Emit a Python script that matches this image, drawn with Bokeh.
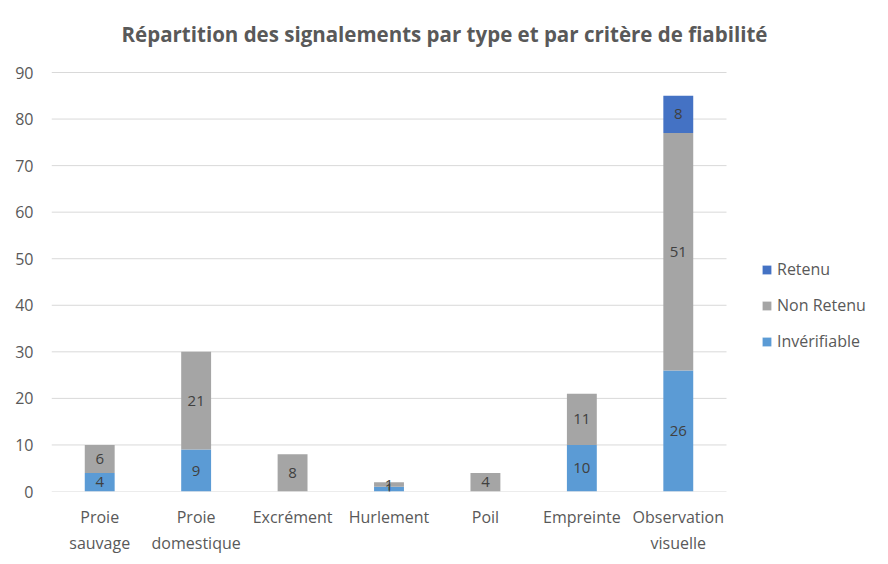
from bokeh.plotting import figure
from bokeh.models import ColumnDataSource, Legend, LegendItem, FixedTicker, Range1d
from bokeh.embed import file_html
from bokeh.resources import INLINE
from bokeh.core.properties import value

# ---- data ----
categories = ["Proie\nsauvage", "Proie\ndomestique", "Excrément", "Hurlement",
              "Poil", "Empreinte", "Observation\nvisuelle"]
inverifiable = [4, 9, 0, 1, 0, 10, 26]
non_retenu = [6, 21, 8, 1, 4, 11, 51]
retenu = [0, 0, 0, 0, 0, 0, 8]
series_names = ["Invérifiable", "Non Retenu", "Retenu"]
series_colors = ["#5B9BD5", "#A5A5A5", "#4472C4"]
y_ticks = [0, 10, 20, 30, 40, 50, 60, 70, 80, 90]
title_text = "Répartition des signalements par type et par critère de fiabilité"

FONT = "Open Sans"
TXT = "#595959"
GRID = "#D9D9D9"

# layout (pixels)
W, H = 888, 564
LEFT_PX, BOTTOM_PX = 51, 73
PLOT_W = 675        # width of the category area
DATA_PX = 419       # height of the 0..90 area
TOP_PX = H - BOTTOM_PX - DATA_PX
FRAME_W = W - LEFT_PX

n = len(categories)
xs = list(range(n))
cat_px = PLOT_W / n
x_start = -0.5
x_end = x_start + FRAME_W / cat_px
y_max = y_ticks[-1]
y_end = y_max * (DATA_PX + TOP_PX) / DATA_PX

source = ColumnDataSource(dict(x=xs, inv=inverifiable, non=non_retenu, ret=retenu))

p = figure(frame_width=FRAME_W, frame_height=DATA_PX + TOP_PX,
           output_backend="svg", toolbar_location=None, title_location=None,
           min_border_left=LEFT_PX, min_border_right=0,
           min_border_top=0, min_border_bottom=BOTTOM_PX,
           x_range=Range1d(x_start, x_end), y_range=Range1d(0, y_end))

# gridlines and axis line, limited to the category area
p.segment(x0=[x_start] * len(y_ticks), x1=[x_start + n] * len(y_ticks),
          y0=y_ticks, y1=y_ticks, line_color=GRID, line_width=1)

renderers = p.vbar_stack(["inv", "non", "ret"], x="x", width=0.31,
                         color=series_colors, line_color=None, source=source)

# data labels
lx, ly, lt = [], [], []
for i in xs:
    bottom = 0
    for vals in (inverifiable, non_retenu, retenu):
        v = vals[i]
        if v:
            lx.append(i)
            ly.append(bottom + v / 2)
            lt.append(str(v))
        bottom += v
p.text(x=lx, y=ly, text=lt, text_align="center", text_baseline="middle",
       text_color="#404040", text_font=value(FONT), text_font_size="15px")

# title (drawn inside the top strip of the frame, centred on the whole chart)
p.text(x=[x_start], y=[y_end], text=[title_text], x_offset=W / 2 - LEFT_PX, y_offset=33,
       text_align="center", text_baseline="middle", text_color=TXT,
       text_font=value(FONT), text_font_size="20.5px", text_font_style="bold")

# axes
p.yaxis.ticker = FixedTicker(ticks=y_ticks)
p.yaxis.axis_line_color = None
p.yaxis.major_tick_line_color = None
p.yaxis.minor_tick_line_color = None
p.yaxis.major_label_text_font = FONT
p.yaxis.major_label_text_font_size = "16px"
p.yaxis.major_label_text_color = TXT
p.yaxis.major_label_standoff = 12

p.xaxis.ticker = FixedTicker(ticks=xs)
p.xaxis.major_label_overrides = {i: c for i, c in zip(xs, categories)}
p.xaxis.axis_line_color = None
p.xaxis.major_tick_line_color = None
p.xaxis.minor_tick_line_color = None
p.xaxis.major_label_text_font = FONT
p.xaxis.major_label_text_font_size = "16px"
p.xaxis.major_label_text_color = TXT
p.xaxis.major_label_standoff = 8

p.xgrid.grid_line_color = None
p.ygrid.grid_line_color = None
p.outline_line_color = None

# legend (inside the frame, to the right of the bars)
legend = Legend(items=[LegendItem(label=series_names[2], renderers=[renderers[2]]),
                       LegendItem(label=series_names[1], renderers=[renderers[1]]),
                       LegendItem(label=series_names[0], renderers=[renderers[0]])],
                location=(PLOT_W + 35, 139), orientation="vertical",
                glyph_width=11, glyph_height=11, label_height=20, spacing=14,
                padding=0, margin=0, border_line_color=None,
                background_fill_alpha=0,
                label_text_font=FONT, label_text_font_size="16px",
                label_text_color=TXT, label_standoff=5)
p.add_layout(legend, "center")

open("out.html", "w").write(file_html(p, INLINE))
